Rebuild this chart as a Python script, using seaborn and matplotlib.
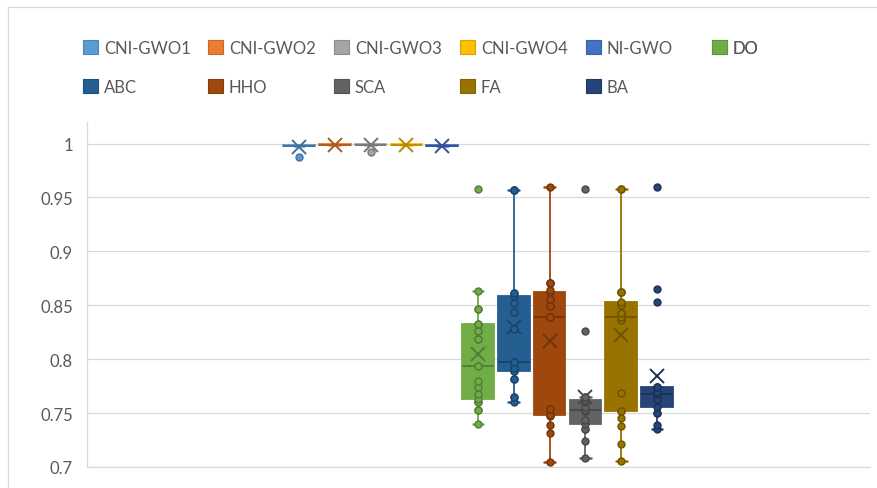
import matplotlib
matplotlib.use("Agg")
import matplotlib.pyplot as plt
import matplotlib.colors as mcolors
from matplotlib.patches import Patch, Rectangle
import numpy as np
import seaborn as sns

series = ["CNI-GWO1", "CNI-GWO2", "CNI-GWO3", "CNI-GWO4", "NI-GWO",
          "DO", "ABC", "HHO", "SCA", "FA", "BA"]
colors = ["#5B9BD5", "#ED7D31", "#A5A5A5", "#FFC000", "#4472C4",
          "#70AD47", "#255E91", "#9E480E", "#636363", "#997300", "#264478"]

cni_gwo1 = [0.988, 0.9975, 0.9975, 0.998, 0.998, 0.998, 0.998, 0.998, 0.9985, 0.9985, 0.9985]
cni_gwo2 = [0.9985, 0.9985, 0.9985, 0.999, 0.999, 0.999, 0.999, 0.999, 0.9995, 0.9995, 0.9995]
cni_gwo3 = [0.992, 0.9985, 0.9985, 0.999, 0.999, 0.999, 0.999, 0.999, 0.9995, 0.9995, 0.9995]
cni_gwo4 = [0.9985, 0.9985, 0.9985, 0.999, 0.999, 0.999, 0.999, 0.999, 0.9995, 0.9995, 0.9995]
ni_gwo = [0.9975, 0.9975, 0.9975, 0.998, 0.998, 0.998, 0.998, 0.998, 0.9985, 0.9985, 0.9985]
do_vals = [0.740, 0.7525, 0.7525, 0.760, 0.760, 0.763, 0.768, 0.774, 0.780, 0.794, 0.794,
           0.819, 0.819, 0.826, 0.826, 0.833, 0.833, 0.847, 0.847, 0.863, 0.958]
abc_vals = [0.760, 0.765, 0.765, 0.782, 0.782, 0.789, 0.789, 0.792, 0.797, 0.797, 0.797,
            0.828, 0.828, 0.844, 0.8525, 0.859, 0.861, 0.861, 0.957, 0.957, 0.957]
hho_vals = [0.7046, 0.732, 0.739, 0.747, 0.748, 0.748, 0.754, 0.754, 0.839, 0.839, 0.839,
            0.849, 0.849, 0.856, 0.856, 0.862, 0.864, 0.871, 0.871, 0.871, 0.960]
sca_vals = [0.708, 0.7245, 0.7355, 0.7355, 0.740, 0.744, 0.7515, 0.7515, 0.753,
            0.756, 0.760, 0.762, 0.762, 0.765, 0.765, 0.826, 0.958]
fa_vals = [0.706, 0.7216, 0.738, 0.745, 0.7515, 0.752, 0.769, 0.836, 0.836, 0.839, 0.839,
           0.843, 0.843, 0.850, 0.850, 0.853, 0.862, 0.862, 0.862, 0.958, 0.958]
ba_vals = [0.7355, 0.739, 0.750, 0.750, 0.756, 0.763, 0.763, 0.768, 0.768,
           0.770, 0.770, 0.774, 0.774, 0.774, 0.853, 0.865, 0.960]

data_lists = [cni_gwo1, cni_gwo2, cni_gwo3, cni_gwo4, ni_gwo,
              do_vals, abc_vals, hho_vals, sca_vals, fa_vals, ba_vals]

ytick_vals = [0.7, 0.75, 0.8, 0.85, 0.9, 0.95, 1.0]
ytick_labels = ["0.7", "0.75", "0.8", "0.85", "0.9", "0.95", "1"]

sns.set_style("white")
plt.rcParams["font.family"] = ["Lato", "DejaVu Sans"]

W, H = 877, 489
fig = plt.figure(figsize=(W / 100, H / 100), dpi=100)
fig.patch.set_facecolor("white")
ax = fig.add_axes([87 / W, (H - 468) / H, (870 - 87) / W, (468 - 123) / H])


def darken(c, f=0.72):
    r, g, b = mcolors.to_rgb(c)
    return (r * f, g * f, b * f)


for name, vals, c in zip(series, data_lists, colors):
    dk = darken(c)
    xs = [name] * len(vals)
    sns.boxplot(x=xs, y=vals, order=series, color=c, linecolor=c, linewidth=1.3,
                width=0.88, saturation=1, showfliers=False, whis=1.5,
                showmeans=True,
                meanprops=dict(marker="x", markeredgecolor=dk, markerfacecolor=dk,
                               markersize=10, markeredgewidth=1.4),
                medianprops=dict(color=dk, linewidth=1.3),
                boxprops=dict(edgecolor=c),
                capprops=dict(linewidth=1.8),
                capwidths=0.3, ax=ax)
    # collapsed (near-constant) boxes: only the stray values show as dots
    q1, med, q3 = np.percentile(vals, [25, 50, 75])
    if q3 - q1 < 0.002:
        pts = [v for v in vals if abs(v - med) > 0.003]
    else:
        pts = list(vals)
    sns.stripplot(x=[name] * len(pts), y=pts, order=series, color=c, edgecolor=dk,
                  linewidth=1.0, size=5, jitter=False, ax=ax, zorder=3)

ax.set_xlim(-5.92, 15.95)
ax.set_ylim(0.7, 1.02)
ax.set_xticks([])
ax.set_xlabel("")
ax.set_ylabel("")
ax.set_yticks(ytick_vals)
ax.set_yticklabels(ytick_labels)
ax.tick_params(axis="y", length=0, pad=10, labelcolor="#595959", labelsize=12)
ax.yaxis.grid(True, color="#D9D9D9", linewidth=0.9)
ax.set_axisbelow(True)
for s in ["top", "right"]:
    ax.spines[s].set_visible(False)
for s in ["left", "bottom"]:
    ax.spines[s].set_color("#D9D9D9")
    ax.spines[s].set_linewidth(0.9)

# chart border
fig.add_artist(Rectangle((8 / W, -0.1), 2.0, (H - 8) / H + 0.1, transform=fig.transFigure,
                         fill=False, edgecolor="#D9D9D9", linewidth=0.9))

# legend: 6 columns, 2 rows, fixed column pitch
col_x = [83, 208, 334, 460, 586, 712]
for ci, x0 in enumerate(col_x):
    idxs = [i for i in (ci, ci + 6) if i < len(series)]
    handles = [Patch(facecolor=colors[i], edgecolor=darken(colors[i], 0.85), linewidth=0.8)
               for i in idxs]
    labels = [series[i] for i in idxs]
    leg = ax.legend(handles, labels, loc="upper left",
                    bbox_to_anchor=(x0 / W, 1 - 41 / H), bbox_transform=fig.transFigure,
                    frameon=False, fontsize=12, handlelength=0.9, handleheight=0.9,
                    handletextpad=0.35, labelspacing=1.37, borderpad=0, borderaxespad=0)
    for t in leg.get_texts():
        t.set_color("#595959")
    ax.add_artist(leg)

fig.savefig("out.png", dpi=100, facecolor="white")
